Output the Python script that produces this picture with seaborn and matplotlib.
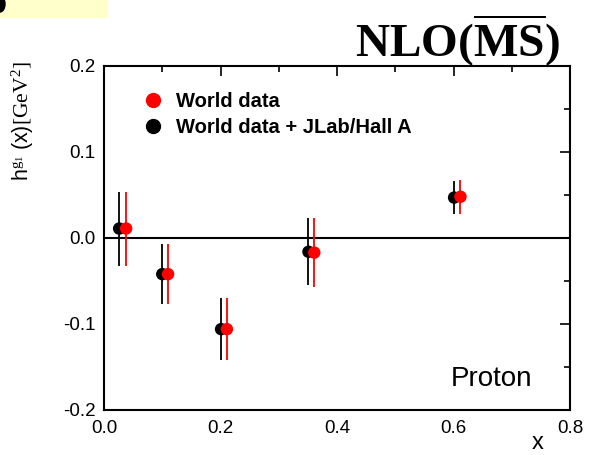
import matplotlib
matplotlib.use("Agg")
import matplotlib.pyplot as plt
import matplotlib.patches as mpatches
from matplotlib.lines import Line2D
from matplotlib.ticker import MultipleLocator
import seaborn as sns
import pandas as pd

# Data
series_names = ["World data + JLab/Hall A", "World data"]
x_black = [0.026, 0.100, 0.201, 0.351, 0.601]
y_black = [0.011, -0.042, -0.106, -0.016, 0.047]
err_black = [0.043, 0.035, 0.036, 0.039, 0.019]
x_red = [0.038, 0.110, 0.211, 0.361, 0.612]
y_red = [0.011, -0.042, -0.106, -0.017, 0.048]
err_red = [0.043, 0.035, 0.036, 0.040, 0.020]
x_ticks = [0.0, 0.2, 0.4, 0.6, 0.8]
y_ticks = [-0.2, -0.1, 0.0, 0.1, 0.2]

sns.set_theme(style="white")
plt.rcParams["font.family"] = ["Liberation Sans", "DejaVu Sans"]
plt.rcParams["text.color"] = "black"
plt.rcParams["axes.labelcolor"] = "black"
plt.rcParams["xtick.color"] = "black"
plt.rcParams["ytick.color"] = "black"
plt.rcParams["mathtext.fontset"] = "custom"
plt.rcParams["mathtext.rm"] = "Liberation Serif"
plt.rcParams["mathtext.bf"] = "Liberation Serif:bold"
plt.rcParams["mathtext.it"] = "Liberation Serif:italic"
plt.rcParams["mathtext.sf"] = "Liberation Sans"

df = pd.DataFrame({
    "x": x_black + x_red,
    "y": y_black + y_red,
    "err": err_black + err_red,
    "series": [series_names[0]] * len(x_black) + [series_names[1]] * len(x_red),
})
palette = {series_names[0]: "black", series_names[1]: "red"}

fig = plt.figure(figsize=(5.94, 4.55), dpi=100)
ax = fig.add_axes([104 / 594, 1 - 410 / 455, 466 / 594, 344 / 455])

ax.axhline(0.0, color="black", lw=1.5, zorder=1)
for name in series_names:
    sub = df[df["series"] == name]
    ax.errorbar(sub["x"], sub["y"], yerr=sub["err"], fmt="none",
                ecolor=palette[name], elinewidth=1.3, capsize=0, zorder=2)
    sns.scatterplot(data=sub, x="x", y="y", color=palette[name], s=80,
                    edgecolor="none", ax=ax, zorder=3, legend=False)

ax.set_xlim(0.0, 0.8)
ax.set_ylim(-0.2, 0.2)
ax.set_xticks(x_ticks)
ax.set_yticks(y_ticks)
ax.set_xticklabels([f"{v:.1f}" for v in x_ticks])
ax.set_yticklabels([f"{v:.1f}" for v in y_ticks])
ax.xaxis.set_minor_locator(MultipleLocator(0.1))
ax.yaxis.set_minor_locator(MultipleLocator(0.05))
ax.tick_params(which="both", direction="in", top=True, right=True,
               labelsize=13.5, width=1.2, colors="black")
ax.tick_params(axis="x", which="major", pad=7)
ax.tick_params(axis="y", which="major", pad=6)
ax.tick_params(which="major", length=7)
ax.tick_params(which="minor", length=4.5)
for s in ax.spines.values():
    s.set_linewidth(1.5)
    s.set_color("black")

ax.set_xlabel("x", fontsize=17, va="center")
ax.xaxis.set_label_coords(0.931, -0.095)
ax.set_ylabel(r"$\mathsf{h}^{\mathrm{g}_{\mathrm{1}}}\ \mathsf{(x)}\mathrm{[GeV^2]}$",
              fontsize=15.5, va="center")
ax.yaxis.set_label_coords(-0.175, 0.84)

ax.text(0.92, 0.09, "Proton", transform=ax.transAxes, ha="right", va="center",
        fontsize=20)

handles = [Line2D([], [], marker="o", ls="none", color="red", markersize=10),
           Line2D([], [], marker="o", ls="none", color="black", markersize=10)]
ax.legend(handles, ["World data", "World data + JLab/Hall A"],
          loc="upper left", bbox_to_anchor=(0.045, 0.97), frameon=False,
          prop={"weight": "bold", "size": 14.5}, handletextpad=0.55,
          labelspacing=0.35, handlelength=1.2, borderpad=0.3)

fig.text(560 / 594, 1 - 41 / 455, r"NLO($\mathbf{\overline{MS}}$)",
         ha="right", va="center",
         fontsize=34, fontfamily="Liberation Serif", fontweight="bold")

fig.patches.append(mpatches.Rectangle((0, 1 - 17 / 455), 107 / 594, 17 / 455,
                                      transform=fig.transFigure, color="#FFFFCC",
                                      zorder=0))
fig.patches.append(mpatches.Ellipse((0, 1 - 4 / 455), 10 / 594, 16 / 455,
                                    transform=fig.transFigure, color="black",
                                    zorder=1))

fig.savefig("out.png", dpi=100)
